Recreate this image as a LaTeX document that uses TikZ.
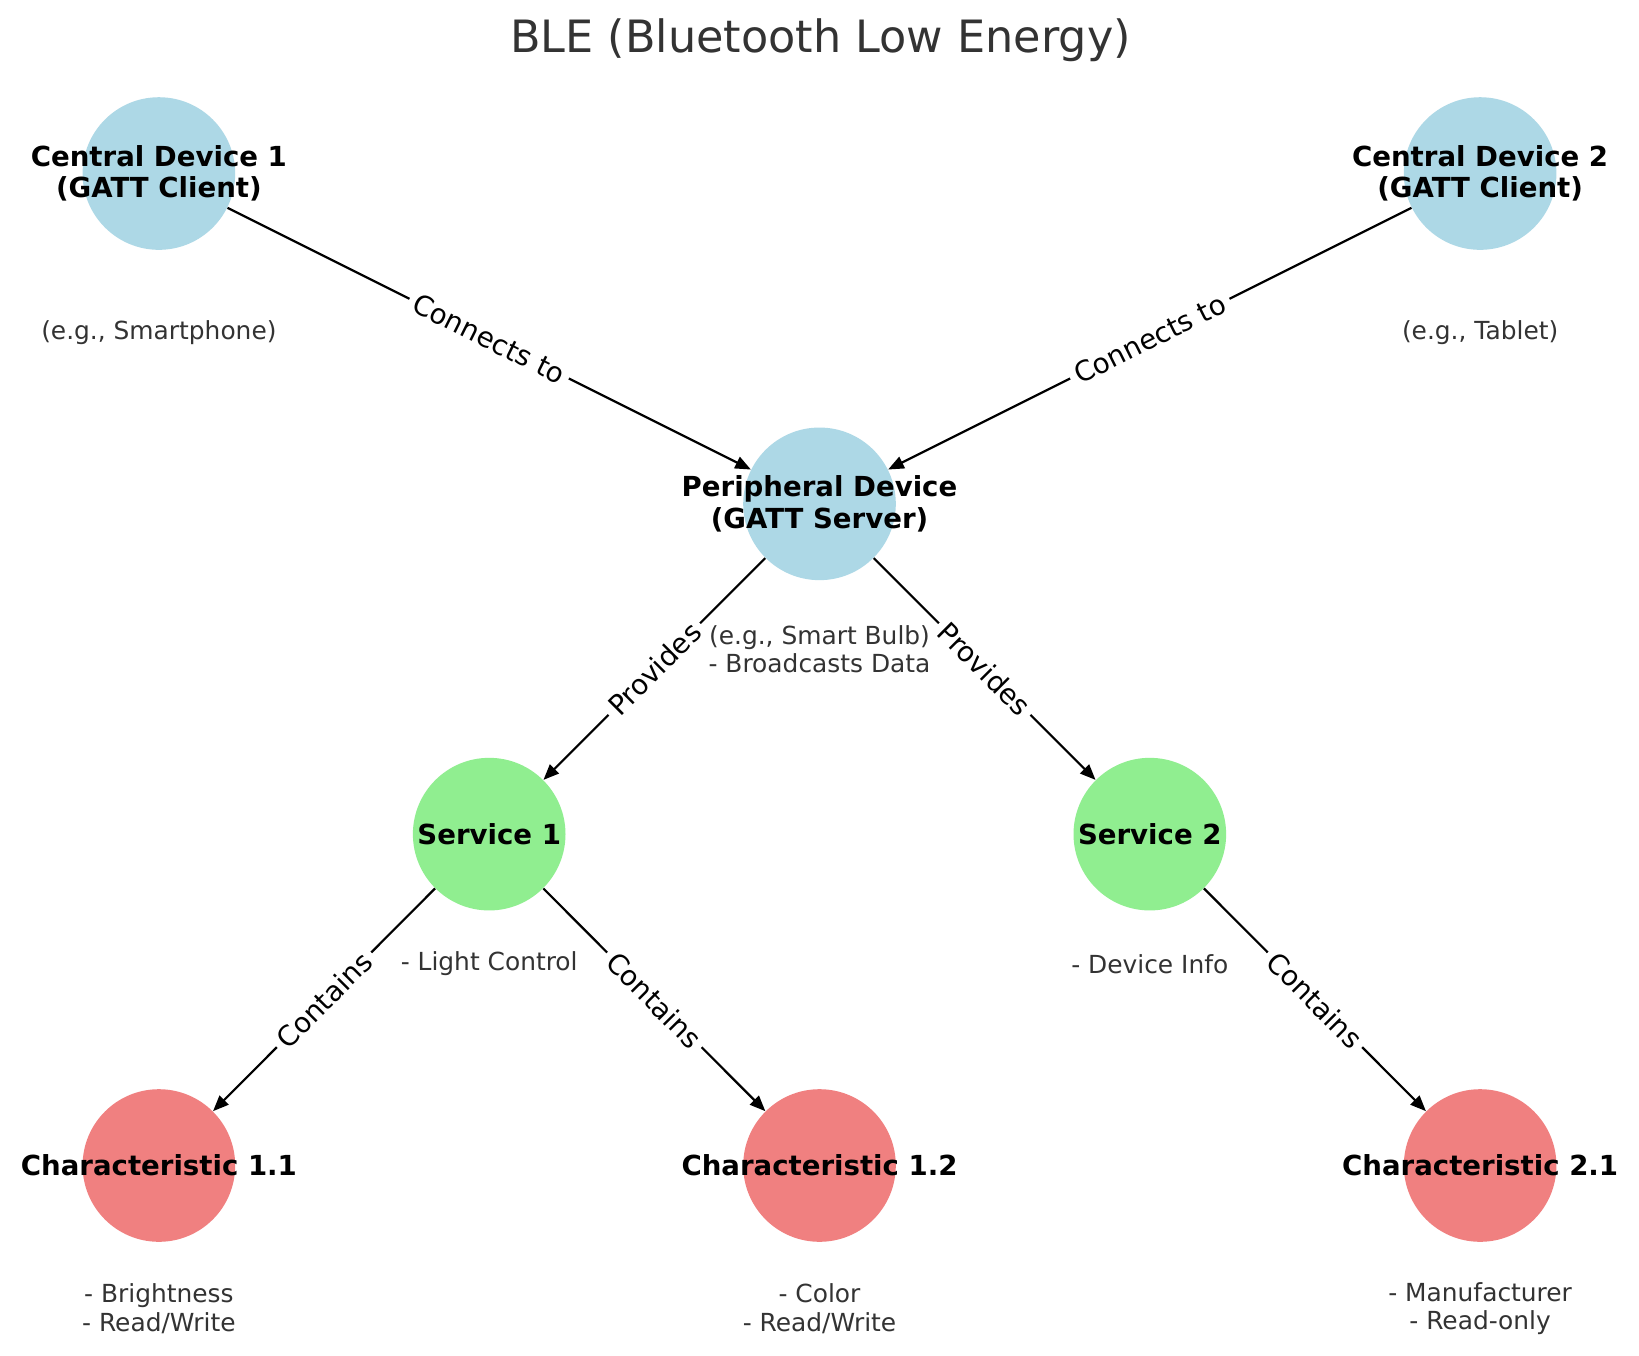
\documentclass[tikz,border=0pt]{standalone}
\usepackage{fontspec}
\setmainfont{DejaVu Sans}
\usetikzlibrary{arrows.meta}
\definecolor{lblue}{HTML}{ADD8E6}
\definecolor{lgreen}{HTML}{90EE90}
\definecolor{lcoral}{HTML}{F08080}
\definecolor{txtgray}{HTML}{333333}
\begin{document}
\begin{tikzpicture}[x=0.5pt,y=-0.5pt,
  dot/.style={circle,minimum size=73pt,inner sep=0pt,draw=none},
  bluedot/.style={dot,fill=lblue},
  greendot/.style={dot,fill=lgreen},
  reddot/.style={dot,fill=lcoral},
  lbl/.style={font=\fontsize{13.2}{15}\selectfont\bfseries,align=center,text=black,inner sep=0pt},
  note/.style={font=\fontsize{11.9}{13.6}\selectfont,align=center,text=txtgray,inner sep=0pt},
  edge/.style={draw=black,line width=1.05pt,-{Triangle[length=7.5pt,width=6pt]}},
  elabel/.style={midway,sloped,fill=white,inner sep=2.8pt,font=\fontsize{13.3}{15}\selectfont}]
\useasboundingbox (0,0) rectangle (1568,1297);
\fill[white] (0,0) rectangle (1568,1297);

\node[font=\fontsize{21.3}{24}\selectfont,text=txtgray] (title) at (785,38) {BLE (Bluetooth Low Energy)};

% circles
\node[bluedot] (c1) at (152,166) {};
\node[bluedot] (c2) at (1416,166) {};
\node[bluedot] (p) at (784,482) {};
\node[greendot] (s1) at (468,798) {};
\node[greendot] (s2) at (1100,798) {};
\node[reddot] (k11) at (152,1115) {};
\node[reddot] (k12) at (784,1115) {};
\node[reddot] (k21) at (1416,1115) {};

% edges
\draw[edge] (c1) -- node[elabel] {Connects to} (p);
\draw[edge] (c2) -- node[elabel] {Connects to} (p);
\draw[edge] (p) -- node[elabel] {Provides} (s1);
\draw[edge] (p) -- node[elabel] {Provides} (s2);
\draw[edge] (s1) -- node[elabel] {Contains} (k11);
\draw[edge] (s1) -- node[elabel] {Contains} (k12);
\draw[edge] (s2) -- node[elabel] {Contains} (k21);

% labels
\node[lbl] (c1l) at (152,166) {Central Device 1\\(GATT Client)};
\node[lbl] (c2l) at (1416,166) {Central Device 2\\(GATT Client)};
\node[lbl] (pl) at (784,482) {Peripheral Device\\(GATT Server)};
\node[lbl] (s1l) at (468,798) {Service 1};
\node[lbl] (s2l) at (1100,798) {Service 2};
\node[lbl] (k11l) at (152,1115) {Characteristic 1.1};
\node[lbl] (k12l) at (784,1115) {Characteristic 1.2};
\node[lbl] (k21l) at (1416,1115) {Characteristic 2.1};

% notes
\node[note] (c1n) at (152,318) {(e.g., Smartphone)};
\node[note] (c2n) at (1416,318) {(e.g., Tablet)};
\node[note] (pn) at (784,621) {(e.g., Smart Bulb)\\- Broadcasts Data};
\node[note] (s1n) at (468,922) {- Light Control};
\node[note] (s2n) at (1100,922) {- Device Info};
\node[note] (k11n) at (152,1252) {- Brightness\\- Read/Write};
\node[note] (k12n) at (784,1252) {- Color\\- Read/Write};
\node[note] (k21n) at (1416,1252) {- Manufacturer\\- Read-only};
\end{tikzpicture}
\end{document}
